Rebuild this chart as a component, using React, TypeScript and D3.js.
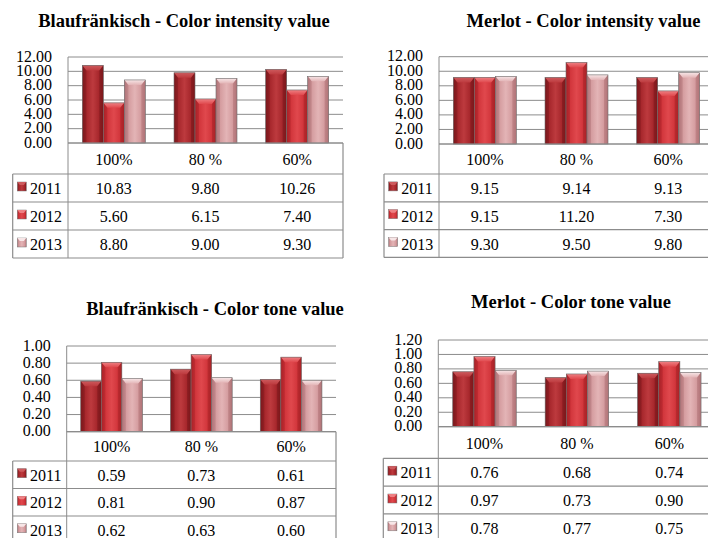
import React from "react";
import * as d3 from "d3";

// Irrigation levels and vintages shared by all four panels
const categories = ["100%", "80 %", "60%"];
const vintages = ["2011", "2012", "2013"];

// Values per vintage (rows) and irrigation level (columns)
const blaufrankischIntensity = [
  [10.83, 9.8, 10.26],
  [5.6, 6.15, 7.4],
  [8.8, 9.0, 9.3],
];
const merlotIntensity = [
  [9.15, 9.14, 9.13],
  [9.15, 11.2, 7.3],
  [9.3, 9.5, 9.8],
];
const blaufrankischTone = [
  [0.59, 0.73, 0.61],
  [0.81, 0.9, 0.87],
  [0.62, 0.63, 0.6],
];
const merlotTone = [
  [0.76, 0.68, 0.74],
  [0.97, 0.73, 0.9],
  [0.78, 0.77, 0.75],
];

// Axis ticks
const intensityTicks = [0, 2, 4, 6, 8, 10, 12];
const blaufrankischToneTicks = [0, 0.2, 0.4, 0.6, 0.8, 1.0];
const merlotToneTicks = [0, 0.2, 0.4, 0.6, 0.8, 1.0, 1.2];

const titles = [
  "Blaufränkisch - Color intensity value",
  "Merlot -  Color intensity value",
  "Blaufränkisch - Color tone value",
  "Merlot - Color tone value",
];

// Bar shading per vintage: edge, body, highlight, bevel cap
const palette = [
  { dark: "#7a181c", base: "#a4252a", light: "#bd3a3e", cap: "#cd5a5d" },
  { dark: "#a82227", base: "#d0343a", light: "#e0484d", cap: "#ee8083" },
  { dark: "#b07377", base: "#d39a9d", light: "#e3b4b6", cap: "#f7e6e7" },
];

const FONT = "Liberation Serif";
const LINE = "#8c8c8c";

interface PanelLayout {
  titleX: number;
  titleY: number;
  legendLeft: number;
  plotLeft: number;
  plotRight: number;
  plotTop: number;
  plotBottom: number;
  headerH: number;
  rowH: number;
}

const layouts: PanelLayout[] = [
  { titleX: 184, titleY: 26.5, legendLeft: 12.7, plotLeft: 68, plotRight: 343, plotTop: 57, plotBottom: 143, headerH: 31, rowH: 28 },
  { titleX: 583.5, titleY: 26.5, legendLeft: 384, plotLeft: 439, plotRight: 714, plotTop: 56.7, plotBottom: 144, headerH: 30, rowH: 27.8 },
  { titleX: 215, titleY: 314.5, legendLeft: 12.7, plotLeft: 66.7, plotRight: 336, plotTop: 346, plotBottom: 431.7, headerH: 29.3, rowH: 27.5 },
  { titleX: 571, titleY: 307.5, legendLeft: 383.3, plotLeft: 438.3, plotRight: 715.5, plotTop: 340, plotBottom: 426.7, headerH: 31.6, rowH: 27.8 },
];

const panelValues = [blaufrankischIntensity, merlotIntensity, blaufrankischTone, merlotTone];
const panelTicks = [intensityTicks, intensityTicks, blaufrankischToneTicks, merlotToneTicks];

function Label(props: React.SVGProps<SVGTextElement>) {
  return <text fontFamily={FONT} style={{ fontFamily: `"${FONT}"` }} fill="#000" {...props} />;
}

function Bar({ x, y, w, h, s }: { x: number; y: number; w: number; h: number; s: number }) {
  const b = Math.min(4, w / 5);
  const capH = Math.min(5, h);
  const c = palette[s];
  return (
    <g>
      <rect x={x} y={y} width={w} height={h} fill={`url(#barGrad${s})`} />
      <polygon
        points={`${x},${y} ${x + w},${y} ${x + w - b},${y + capH} ${x + b},${y + capH}`}
        fill={`url(#capGrad${s})`}
      />
      <polygon points={`${x},${y} ${x + b},${y + capH} ${x + b},${y + h} ${x},${y + h}`} fill={c.dark} opacity={0.45} />
      <polygon points={`${x + w},${y} ${x + w - b},${y + capH} ${x + w - b},${y + h} ${x + w},${y + h}`} fill={c.dark} opacity={0.55} />
      <rect x={x} y={y} width={w} height={h} fill="none" stroke="#6e6e6e" strokeWidth={0.6} />
    </g>
  );
}

function Panel({ idx }: { idx: number }) {
  const L = layouts[idx];
  const values = panelValues[idx];
  const ticks = panelTicks[idx];
  const yMax = ticks[ticks.length - 1];

  const x0 = d3.scaleBand<string>().domain(categories).range([L.plotLeft, L.plotRight]).padding(0);
  const x1 = d3
    .scaleBand<string>()
    .domain(vintages)
    .range([0, x0.bandwidth()])
    .paddingInner(0)
    .paddingOuter(0.683);
  const y = d3.scaleLinear().domain([0, yMax]).range([L.plotBottom, L.plotTop]);

  const tableTop = L.plotBottom;
  const headerBottom = tableTop + L.headerH;
  const rowLines = vintages.map((_, i) => headerBottom + L.rowH * (i + 1));
  const tableBottom = rowLines[rowLines.length - 1];

  return (
    <g>
      <Label x={L.titleX} y={L.titleY} textAnchor="middle" fontWeight="bold" fontSize={18.5}>
        {titles[idx]}
      </Label>

      {/* gridlines and value axis labels */}
      {ticks.map((t) => (
        <g key={t}>
          <line x1={L.plotLeft} x2={L.plotRight} y1={y(t)} y2={y(t)} stroke={LINE} strokeWidth={1} />
          <Label x={L.plotLeft - 16} y={y(t) + 4.5} textAnchor="end" fontSize={16}>
            {t.toFixed(2)}
          </Label>
        </g>
      ))}
      <line x1={L.plotLeft} x2={L.plotLeft} y1={L.plotTop} y2={tableBottom} stroke={LINE} strokeWidth={1} />

      {/* bars */}
      {values.map((row, s) =>
        row.map((v, c) => {
          const bx = (x0(categories[c]) as number) + (x1(vintages[s]) as number);
          const by = y(v);
          return <Bar key={`${s}-${c}`} x={bx} y={by} w={x1.bandwidth()} h={y(0) - by} s={s} />;
        })
      )}

      {/* data table */}
      <line x1={L.plotLeft} x2={L.plotRight} y1={tableTop} y2={tableTop} stroke={LINE} strokeWidth={1.2} />
      <line x1={L.plotRight} x2={L.plotRight} y1={tableTop} y2={tableBottom} stroke={LINE} strokeWidth={1.2} />
      <line x1={L.legendLeft} x2={L.legendLeft} y1={headerBottom} y2={tableBottom} stroke={LINE} strokeWidth={1.2} />
      <line x1={L.legendLeft} x2={L.plotRight} y1={headerBottom} y2={headerBottom} stroke={LINE} strokeWidth={1.2} />
      {rowLines.map((ry, i) => (
        <line key={i} x1={L.legendLeft} x2={L.plotRight} y1={ry} y2={ry} stroke={LINE} strokeWidth={1.2} />
      ))}
      {categories.map((cat) => (
        <Label key={cat} x={(x0(cat) as number) + x0.bandwidth() / 2} y={tableTop + L.headerH / 2 + 6} textAnchor="middle" fontSize={16}>
          {cat}
        </Label>
      ))}
      {vintages.map((yr, s) => {
        const cy = headerBottom + L.rowH * s + L.rowH / 2;
        const c = palette[s];
        const kx = L.legendLeft + 4.6;
        return (
          <g key={yr}>
            <rect x={kx} y={cy - 6} width={9} height={9} fill={`url(#barGrad${s})`} stroke="#777" strokeWidth={0.5} />
            <polygon points={`${kx},${cy - 6} ${kx + 9},${cy - 6} ${kx + 6.5},${cy - 3} ${kx + 2.5},${cy - 3}`} fill={c.cap} />
            <Label x={L.legendLeft + 17.3} y={cy + 6} fontSize={16}>
              {yr}
            </Label>
            {values[s].map((v, ci) => (
              <Label key={ci} x={(x0(categories[ci]) as number) + x0.bandwidth() / 2} y={cy + 6} textAnchor="middle" fontSize={16}>
                {v.toFixed(2)}
              </Label>
            ))}
          </g>
        );
      })}
    </g>
  );
}

export default function App() {
  return (
    <svg width={708} height={538} style={{ position: "absolute", left: 0, top: 0, background: "#fff" }}>
      <defs>
        {palette.map((c, s) => (
          <React.Fragment key={s}>
            <linearGradient id={`barGrad${s}`} x1="0" x2="1" y1="0" y2="0">
              <stop offset="0%" stopColor={c.dark} />
              <stop offset="18%" stopColor={c.base} />
              <stop offset="50%" stopColor={c.light} />
              <stop offset="82%" stopColor={c.base} />
              <stop offset="100%" stopColor={c.dark} />
            </linearGradient>
            <linearGradient id={`capGrad${s}`} x1="0" x2="0" y1="0" y2="1">
              <stop offset="0%" stopColor={c.cap} />
              <stop offset="100%" stopColor={c.light} />
            </linearGradient>
          </React.Fragment>
        ))}
      </defs>
      <rect width={708} height={538} fill="#fff" />
      {layouts.map((_, i) => (
        <Panel key={i} idx={i} />
      ))}
    </svg>
  );
}
